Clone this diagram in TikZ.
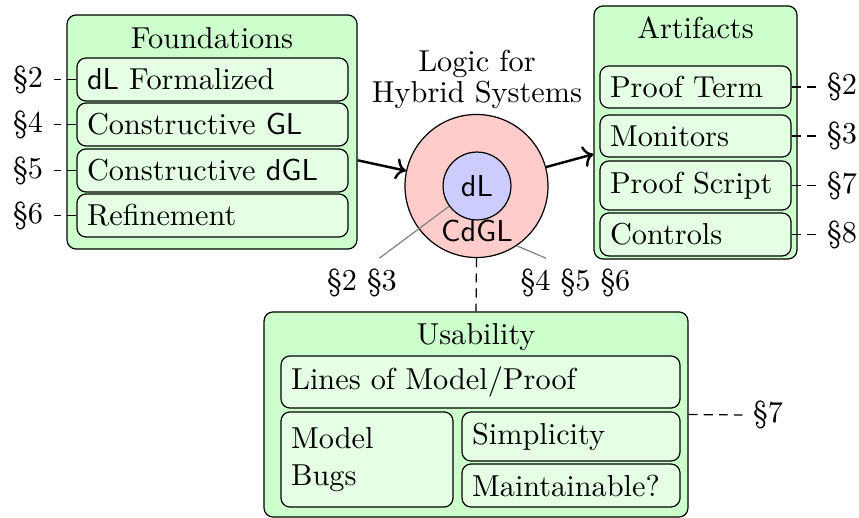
\documentclass[tikz,border=0pt]{standalone}
\usepackage{tikz}
\usetikzlibrary{arrows.meta}

\begin{document}
\begin{tikzpicture}[x=0.33pt,y=-0.33pt,
  group/.style={draw,fill=green!20,rounded corners=3pt},
  item/.style={draw,fill=green!10,rounded corners=3pt,align=left},
  title/.style={align=center},
  tie/.style={densely dashed},
  ref/.style={gray},
  edge/.style={-{To},thick}]
\useasboundingbox (0,0) rectangle (859,518);
\node[group,minimum width=95.7pt,minimum height=77.2pt] (found) at (212,132) {};
\node[title] (foundt) at (212,38) {Foundations};
\node[item,text width=82.8pt,minimum height=14.2pt] (fdl) at (212.5,79.5) {\textsf{dL} Formalized};
\node[item,text width=82.8pt,minimum height=14.2pt] (fgl) at (212.5,124.5) {Constructive \textsf{GL}};
\node[item,text width=82.8pt,minimum height=14.2pt] (fdgl) at (212.5,170.5) {Constructive \textsf{dGL}};
\node[item,text width=82.8pt,minimum height=14.2pt] (fref) at (212.5,215.5) {Refinement};
\node[group,minimum width=67pt,minimum height=83.5pt] (art) at (695.5,132.5) {};
\node[title] (artt) at (695.5,28) {Artifacts};
\node[item,text width=56.4pt,minimum height=13.9pt] (pterm) at (695.5,87) {Proof Term};
\node[item,text width=56.4pt,minimum height=13.9pt] (mon) at (695.5,136) {Monitors};
\node[item,text width=56.4pt,minimum height=16.2pt] (pscript) at (695.5,185.5) {Proof Script};
\node[item,text width=56.4pt,minimum height=14.2pt] (ctrl) at (695.5,234.5) {Controls};
\node[group,minimum width=139.9pt,minimum height=67.7pt] (usab) at (476,414.5) {};
\node[title] (usabt) at (476,337) {Usability};
\node[item,text width=125pt,minimum height=17.2pt] (lines) at (480.5,382) {Lines of Model/Proof};
\node[item,text width=50.1pt,minimum height=31.4pt] (bugs) at (367,459.5) {Model\\Bugs};
\node[item,text width=65.3pt,minimum height=16.2pt] (simp) at (571,436.5) {Simplicity};
\node[item,text width=65.3pt,minimum height=14.2pt] (maint) at (571,485.5) {Maintainable?};
\node[title] (lhs) at (477,79.5) {Logic for\\[-2pt]Hybrid Systems};
\node[circle,draw,fill=red!20,minimum size=47.2pt,inner sep=0pt] (logic) at (476.5,186) {};
\node[circle,draw,fill=blue!20,minimum size=22.4pt,inner sep=0pt] (dl) at (477,186) {\textsf{dL}};
\node (cdgl) at (477,231) {\textsf{CdGL}};
\node (s23) at (362,283) {\S2 \S3};
\node (s456) at (575.5,283) {\S4 \S5 \S6};
\node (l2) at (28,79.5) {\S2};
\node (l4) at (28,124.5) {\S4};
\node (l5) at (28,170.5) {\S5};
\node (l6) at (28,215.5) {\S6};
\node (r2) at (842,87) {\S2};
\node (r3) at (842,136) {\S3};
\node (r7) at (842,185.5) {\S7};
\node (r8) at (842,234.5) {\S8};
\node (u7) at (768,415) {\S7};
\draw[tie] (fdl.west) -- (l2.east);
\draw[tie] (fgl.west) -- (l4.east);
\draw[tie] (fdgl.west) -- (l5.east);
\draw[tie] (fref.west) -- (l6.east);
\draw[tie] (pterm.east) -- (r2.west);
\draw[tie] (mon.east) -- (r3.west);
\draw[tie] (pscript.east) -- (r7.west);
\draw[tie] (ctrl.east) -- (r8.west);
\draw[tie] (usab.east) -- (u7.west);
\draw[tie] (logic.south) -- (usab.north);
\draw[ref] (dl.216) -- (s23.55);
\draw[ref] (logic.-56) -- (s456.140);
\draw[edge] (found.-11) -- (logic);
\draw[edge] (logic) -- (art.192);
\end{tikzpicture}
\end{document}
